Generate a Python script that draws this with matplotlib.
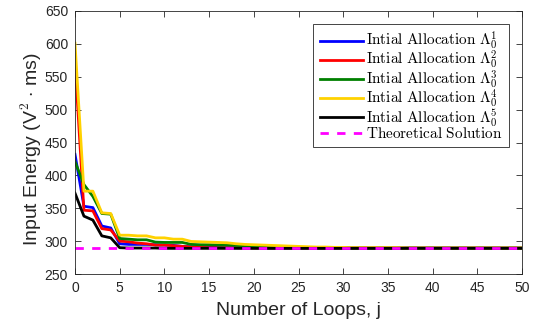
import matplotlib
matplotlib.use("Agg")
import matplotlib.pyplot as plt
import numpy as np

plt.rcParams['font.family'] = ['Liberation Sans', 'DejaVu Sans']
plt.rcParams['mathtext.fontset'] = 'cm'

loops = list(range(51))

blue = [432, 353, 351, 323, 320, 296, 295, 295, 295, 294.5, 294, 293.5, 292, 291.5, 291,
        290.5, 290.5, 290, 290, 290, 290, 289.5, 289.5, 289.5, 289.5, 289.5, 289.5, 289.5,
        289.5, 289.5, 289.5, 289.5, 289.5, 289.5, 289.5, 289.5, 289.5, 289.5, 289.5, 289.5,
        289.5, 289.5, 289.5, 289.5, 289.5, 289.5, 289.5, 289.5, 289.5, 289.5, 289.5]
red = [572, 347, 346, 319, 317, 300, 299, 297, 296, 294, 294, 293, 292, 291, 290.5,
       290, 290, 290, 290, 289.5, 289.5, 289.5, 289.5, 289.5, 289.5, 289.5, 289.5, 289.5,
       289.5, 289.5, 289.5, 289.5, 289.5, 289.5, 289.5, 289.5, 289.5, 289.5, 289.5, 289.5,
       289.5, 289.5, 289.5, 289.5, 289.5, 289.5, 289.5, 289.5, 289.5, 289.5, 289.5]
green = [421, 386, 368, 342, 341, 304, 303, 302, 302, 298.5, 298, 298, 298, 295, 294.5,
         294.5, 294, 294, 293.5, 293, 292.5, 292, 291.5, 291, 291, 290.5, 290.5, 290, 290,
         290, 290, 289.5, 289.5, 289.5, 289.5, 289.5, 289.5, 289.5, 289.5, 289.5, 289.5,
         289.5, 289.5, 289.5, 289.5, 289.5, 289.5, 289.5, 289.5, 289.5, 289.5]
yellow = [601, 376, 376, 343, 342, 309, 309, 308, 308, 305, 305, 303, 303, 299.5, 299,
          298.5, 298, 297.5, 296, 295, 294.5, 294, 293.5, 293, 292.5, 292, 291.5, 291, 291,
          290.5, 290.5, 290, 290, 290, 290, 290, 290, 289.5, 289.5, 289.5, 289.5, 289.5,
          289.5, 289.5, 289.5, 289.5, 289.5, 289.5, 289.5, 289.5, 289.5]
black = [373, 338, 332, 308, 305, 290, 289.5, 289.5, 289.5, 289.5, 289, 289, 289, 289, 289,
         289, 289, 289, 289, 289, 289, 289, 289, 289, 289, 289, 289, 289, 289, 289, 289,
         289, 289, 289, 289, 289, 289, 289, 289, 289, 289, 289, 289, 289, 289, 289, 289,
         289, 289, 289, 289]
theory = 289

labels = [r'$\mathrm{Intial\ Allocation}\ \Lambda_0^1$',
          r'$\mathrm{Intial\ Allocation}\ \Lambda_0^2$',
          r'$\mathrm{Intial\ Allocation}\ \Lambda_0^3$',
          r'$\mathrm{Intial\ Allocation}\ \Lambda_0^4$',
          r'$\mathrm{Intial\ Allocation}\ \Lambda_0^5$',
          r'$\mathrm{Theoretical\ Solution}$']
colors = ['#0000ff', '#ff0000', '#008000', '#ffd200', '#000000']

fig = plt.figure(figsize=(5.41, 3.26), dpi=100)
ax = fig.add_axes([75/541, 1-274/326, (522-75)/541, (274-11)/326])

series = [blue, red, green, yellow, black]
for s, c, l in zip(series, colors, labels[:5]):
    ax.plot(loops, s, color=c, lw=2.0, label=l)
ax.plot([loops[0], loops[-1]], [theory, theory], color='#ff00ff', lw=2.0,
        ls=(0, (3, 3)), label=labels[5])

ax.set_xlim(0, 50)
ax.set_ylim(250, 650)
ax.set_xticks(np.arange(0, 51, 5))
ax.set_yticks(np.arange(250, 651, 50))
ax.tick_params(direction='in', top=True, right=True, labelsize=10,
               colors='#262626', length=4, width=0.6, pad=5)
for sp in ax.spines.values():
    sp.set_color('#262626')
    sp.set_linewidth(0.6)

ax.set_xlabel('Number of Loops, j', fontsize=14, color='#262626', labelpad=5)
ax.set_ylabel(r'Input Energy (V$^{2}$ $\cdot$ ms)', fontsize=14, color='#262626')
ax.yaxis.set_label_coords((44 - 75) / 447, (274 - 149) / 263)

leg = ax.legend(loc='upper right', fontsize=11, handlelength=2.85, labelspacing=-0.18,
                borderpad=0.4, handletextpad=0.2, fancybox=False, framealpha=1,
                edgecolor='#262626', bbox_to_anchor=((509 - 75) / 447, 1 - 13 / 263),
                borderaxespad=0, bbox_transform=ax.transAxes)
leg.get_frame().set_linewidth(0.6)

fig.savefig('out.png', dpi=100)
